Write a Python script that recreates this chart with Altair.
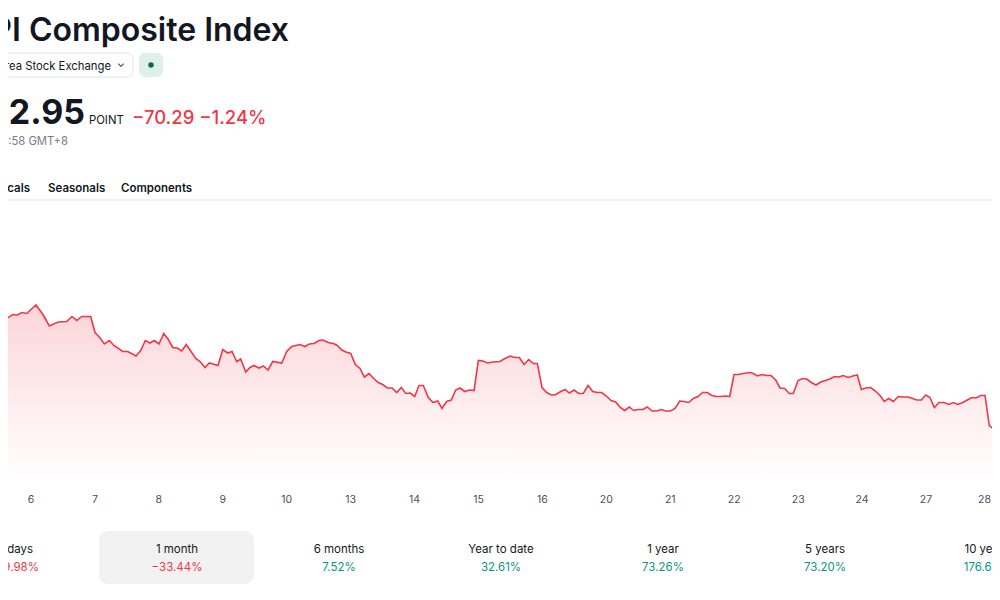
import altair as alt
import pandas as pd

# page is 1000x600 with an 8px body margin on every side
W, H = 984, 580

# intraday index level; t = trading sessions since the open of the 6th
session_t = [
    -0.485, -0.380, -0.286, -0.214, -0.141, -0.067, 0.016, 0.078, 0.192, 0.286, 0.427, 0.558, 0.641, 0.715, 0.793, 0.934,
    1.001, 1.068, 1.147, 1.225, 1.298, 1.434, 1.513, 1.642, 1.716, 1.788, 1.861, 1.929,
    2.002, 2.076, 2.148, 2.217, 2.288, 2.357, 2.429, 2.503, 2.576, 2.644, 2.722, 2.789, 2.925,
    2.999, 3.077, 3.144, 3.218, 3.280, 3.358, 3.426, 3.488, 3.566, 3.634, 3.707, 3.781, 3.922,
    4.000, 4.078, 4.208, 4.286, 4.353, 4.427, 4.505, 4.563, 4.650, 4.729, 4.791, 4.860, 4.927,
    5.001, 5.073, 5.146, 5.214, 5.287, 5.361, 5.433, 5.501, 5.573, 5.647, 5.720, 5.792, 5.861, 5.933,
    6.002, 6.069, 6.136, 6.215, 6.288, 6.362, 6.429, 6.502, 6.574, 6.643, 6.711, 6.784, 6.856, 6.930,
    6.997, 7.066, 7.144, 7.222, 7.336, 7.399, 7.493, 7.566, 7.638, 7.712, 7.785, 7.857, 7.920,
    7.993, 8.067, 8.139, 8.212, 8.286, 8.353, 8.420, 8.494, 8.567, 8.639, 8.713, 8.786, 8.858, 8.927,
    8.999, 9.073, 9.146, 9.218, 9.287, 9.359, 9.427, 9.499, 9.573, 9.640, 9.714, 9.787, 9.859, 9.928,
    10.000, 10.074, 10.147, 10.214, 10.288, 10.360, 10.433, 10.507, 10.579, 10.648, 10.720, 10.793, 10.867, 10.929,
    10.997, 11.070, 11.142, 11.247, 11.298, 11.361, 11.434, 11.508, 11.575, 11.649, 11.716, 11.789, 11.861, 11.924,
    11.998, 12.071, 12.134, 12.206, 12.279, 12.353, 12.425, 12.498, 12.565, 12.639, 12.706, 12.780, 12.853, 12.925,
    12.988, 13.061, 13.135, 13.207, 13.280, 13.347, 13.416, 13.488, 13.567, 13.645, 13.719, 13.792, 13.854, 13.926,
    13.995, 14.062, 14.130, 14.203, 14.281, 14.355, 14.427, 14.500, 14.574, 14.646, 14.715, 14.782, 14.855, 14.923,
    14.990, 15.064, 15.157,
]
price = [
    5814, 5826, 5834, 5833, 5838, 5836, 5846, 5853, 5833, 5811, 5819, 5820, 5830, 5822, 5830, 5830,
    5798, 5789, 5775, 5782, 5772, 5760, 5760, 5751, 5762, 5782, 5777, 5782,
    5775, 5796, 5784, 5768, 5767, 5761, 5774, 5760, 5746, 5740, 5728, 5737, 5732,
    5764, 5757, 5760, 5740, 5745, 5719, 5728, 5732, 5727, 5731, 5723, 5740, 5737,
    5760, 5770, 5774, 5770, 5775, 5776, 5782, 5783, 5778, 5776, 5772, 5763, 5759,
    5756, 5734, 5726, 5709, 5716, 5706, 5698, 5694, 5687, 5687, 5678, 5688, 5676, 5677,
    5670, 5692, 5692, 5668, 5658, 5661, 5646, 5660, 5663, 5683, 5687, 5680, 5683, 5682,
    5742, 5741, 5737, 5739, 5740, 5745, 5751, 5748, 5748, 5734, 5744, 5736, 5736,
    5688, 5678, 5673, 5674, 5680, 5684, 5677, 5683, 5676, 5676, 5692, 5680, 5678, 5678,
    5671, 5662, 5659, 5648, 5642, 5649, 5642, 5644, 5644, 5649, 5641, 5641, 5644, 5641,
    5641, 5646, 5661, 5660, 5658, 5666, 5670, 5678, 5678, 5672, 5670, 5670, 5671, 5670,
    5714, 5714, 5716, 5718, 5716, 5711, 5714, 5712, 5712, 5703, 5687, 5686, 5676, 5676,
    5702, 5706, 5705, 5698, 5693, 5699, 5702, 5705, 5710, 5709, 5712, 5708, 5711, 5713,
    5684, 5687, 5688, 5681, 5672, 5660, 5666, 5660, 5670, 5669, 5669, 5666, 5663, 5663,
    5673, 5668, 5648, 5658, 5658, 5654, 5658, 5654, 5658, 5663, 5668, 5667, 5672, 5672,
    5612, 5604, 5603,
]

days = [6, 7, 8, 9, 10, 13, 14, 15, 16, 20, 21, 22, 23, 24, 27, 28]

periods = ["5 days", "1 month", "6 months", "Year to date", "1 year", "5 years", "10 years"]
period_returns = [-19.98, -33.44, 7.52, 32.61, 73.26, 73.20, 176.68]

RED = "#f23645"
GREEN = "#089981"
INK = "#131722"
GREY = "#787b86"
FONT = "Inter"

# one session ~63.9px, 2 points per px
x_scale = alt.Scale(domain=[-0.36, 15.032], nice=False, zero=False)
y_scale = alt.Scale(domain=[5287, 6447], nice=False, zero=False)


def label(text, x, y, size, color=INK, weight="normal", align="left"):
    return alt.Chart(pd.DataFrame({"s": [text]})).mark_text(
        align=align, baseline="alphabetic", font=FONT,
        fontSize=size, fontWeight=weight, color=color,
    ).encode(x=alt.value(x), y=alt.value(y), text="s:N")


def box(x, x2, y, y2, fill, stroke=None, radius=6):
    kw = dict(fill=fill, cornerRadius=radius)
    if stroke:
        kw.update(stroke=stroke, strokeWidth=1)
    return alt.Chart(pd.DataFrame({"a": [0]})).mark_rect(**kw).encode(
        x=alt.value(x), x2=alt.value(x2), y=alt.value(y), y2=alt.value(y2)
    )


# --- price chart ---
base = alt.Chart(pd.DataFrame({"t": session_t, "price": price}))

area = base.mark_area(
    clip=True,
    color=alt.Gradient(
        gradient="linear",
        stops=[alt.GradientStop(color="#fcd5d8", offset=0),
               alt.GradientStop(color="#ffffff", offset=1)],
        x1=1, x2=1, y1=0, y2=1,
    ),
).encode(
    x=alt.X("t:Q", scale=x_scale, axis=None),
    y=alt.Y("price:Q", scale=y_scale, axis=None),
    y2=alt.datum(5500),
)

line = base.mark_line(color=RED, strokeWidth=1.6, clip=True).encode(
    x=alt.X("t:Q", scale=x_scale, axis=None),
    y=alt.Y("price:Q", scale=y_scale, axis=None),
)

day_df = pd.DataFrame({"t": list(range(len(days))), "day": [str(d) for d in days]})
day_style = dict(font=FONT, fontSize=10.5, color="#4c4f58", baseline="alphabetic")
day_labels = alt.Chart(day_df.iloc[:-1]).mark_text(**day_style).encode(
    x=alt.X("t:Q", scale=x_scale, axis=None),
    y=alt.value(495),
    text="day:N",
)
# last label sits on the right edge, keep it inside the view
day_last = alt.Chart(day_df.iloc[-1:]).mark_text(align="right", dx=1, **day_style).encode(
    x=alt.X("t:Q", scale=x_scale, axis=None),
    y=alt.value(495),
    text="day:N",
)

# --- header ---
title = label("KOSPI Composite Index", 281, 33, 32, weight=600, align="right")
exch_box = box(-10, 125, 45, 69, "#ffffff", stroke="#e0e3eb")
exch = label("Korea Stock Exchange", 103, 62, 11.3, align="right")
chevron = alt.Chart(pd.DataFrame({"a": [0]})).mark_point(
    shape="M-1,-0.5L0,0.5L1,-0.5", filled=False, size=30, strokeWidth=1.3, color=INK
).encode(x=alt.value(113), y=alt.value(57))
badge = box(131, 155, 45, 69, "#dff0ea")
dot = alt.Chart(pd.DataFrame({"a": [0]})).mark_circle(size=30, color="#0b6b55", opacity=1).encode(
    x=alt.value(143), y=alt.value(57)
)

last_px = label("5602.95", 77, 116, 34, weight="bold", align="right")
unit = label("POINT", 81, 116, 11.3)
change = label("\u221270.29 \u22121.24%", 124, 116, 18.5, color=RED, weight=500)
stamp = label("At close at 13:58 GMT+8", 60, 137, 11.3, color=GREY, align="right")

tab_a = label("Technicals", 22, 184, 11.5, weight=600, align="right")
tab_b = label("Seasonals", 40, 184, 11.5, weight=600)
tab_c = label("Components", 113, 184, 11.5, weight=600)
divider = alt.Chart(pd.DataFrame({"a": [0]})).mark_rule(color="#f0f3fa", strokeWidth=2).encode(
    x=alt.value(0), x2=alt.value(W), y=alt.value(192)
)

# --- performance strip ---
perf = pd.DataFrame({
    "i": list(range(len(periods))),
    "period": periods,
    "ret": period_returns,
    "txt": [("\u2212" if r < 0 else "") + f"{abs(r):.2f}%" for r in period_returns],
})
slot = alt.Scale(domain=[0, len(periods) - 1], range=[7, 979])
selected = box(91, 246, 523, 576, "#f2f2f2", radius=9)
perf_names = alt.Chart(perf).mark_text(font=FONT, fontSize=11.5, color=INK, baseline="alphabetic").encode(
    x=alt.X("i:Q", scale=slot, axis=None),
    y=alt.value(545),
    text="period:N",
)
perf_vals = alt.Chart(perf).mark_text(font=FONT, fontSize=11.5, baseline="alphabetic").encode(
    x=alt.X("i:Q", scale=slot, axis=None),
    y=alt.value(563),
    text="txt:N",
    color=alt.condition("datum.ret < 0", alt.value(RED), alt.value(GREEN)),
)

chart = alt.layer(
    area, line, day_labels, day_last,
    title, exch_box, exch, chevron, badge, dot,
    last_px, unit, change, stamp,
    tab_a, tab_b, tab_c, divider,
    selected, perf_names, perf_vals,
).resolve_scale(
    x="independent", y="independent"
).properties(
    width=W, height=H, autosize="none", padding=0, background="#ffffff"
).configure_view(stroke=None)

chart.save("out.html", embed_options={"renderer": "svg", "actions": False})
